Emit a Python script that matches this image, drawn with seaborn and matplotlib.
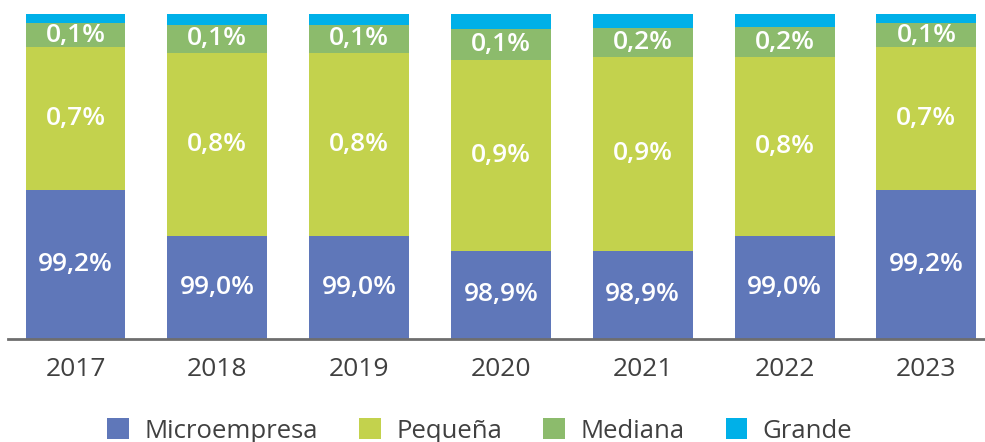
#distribucion de empresas por tamano (barras apiladas)

import numpy as np
import pandas as pd
import matplotlib
matplotlib.use("Agg")
import matplotlib.pyplot as plt
from matplotlib.patches import Patch
import seaborn as sns

#datos
anios = ["2017", "2018", "2019", "2020", "2021", "2022", "2023"]
tamanos = ["Microempresa", "Pequeña", "Mediana", "Grande"]

#etiquetas que muestra el grafico
etiqueta_micro = ["99,2%", "99,0%", "99,0%", "98,9%", "98,9%", "99,0%", "99,2%"]
etiqueta_pequena = ["0,7%", "0,8%", "0,8%", "0,9%", "0,9%", "0,8%", "0,7%"]
etiqueta_mediana = ["0,1%", "0,1%", "0,1%", "0,1%", "0,2%", "0,2%", "0,1%"]

#alto visual de cada tramo (el original no esta a escala, suma 100)
alto_micro = [45.9, 31.6, 31.6, 27.1, 27.1, 31.6, 45.9]
alto_pequena = [43.8, 56.4, 56.4, 58.7, 59.8, 55.1, 43.8]
alto_mediana = [7.5, 8.7, 8.7, 9.6, 8.9, 9.2, 7.5]
alto_grande = [2.8, 3.3, 3.3, 4.6, 4.2, 4.1, 2.8]

colores = ["#5F77B9", "#C3D24D", "#8CBB6C", "#00B0E8"]

sns.set_theme(style="white")
plt.rcParams["font.family"] = ["Open Sans", "DejaVu Sans"]

df = pd.DataFrame({
    "anio": anios,
    "micro": alto_micro,
    "pequena": alto_pequena,
    "mediana": alto_mediana,
    "grande": alto_grande,
})
df["c1"] = df["micro"]
df["c2"] = df["c1"] + df["pequena"]
df["c3"] = df["c2"] + df["mediana"]
df["c4"] = df["c3"] + df["grande"]

fig = plt.figure(figsize=(9.85, 4.42), dpi=100)
ax = fig.add_axes([8 / 985, 103 / 442, 977 / 985, 325 / 442])

#se dibuja de arriba hacia abajo para apilar
for col, color in zip(["c4", "c3", "c2", "c1"], colores[::-1]):
    sns.barplot(data=df, x="anio", y=col, color=color, width=0.705,
                saturation=1, ax=ax, linewidth=0)

#etiquetas dentro de las barras
estilo = dict(ha="center", va="center", color="white", fontsize=19, fontweight="semibold")
for i in range(len(anios)):
    ax.text(i, df["c1"][i] / 2, etiqueta_micro[i], **estilo)
    ax.text(i, (df["c1"][i] + df["c2"][i]) / 2, etiqueta_pequena[i], **estilo)
    ax.text(i, (df["c2"][i] + df["c3"][i]) / 2, etiqueta_mediana[i], **estilo)

ax.set_xlim(-0.476, 6.413)
ax.set_ylim(0, 100)
ax.set_xlabel("")
ax.set_ylabel("")
ax.set_yticks([])
ax.tick_params(axis="x", length=0, pad=13, labelsize=19, labelcolor="#404040")
for lado in ["top", "right", "left"]:
    ax.spines[lado].set_visible(False)
ax.spines["bottom"].set_color("#6E6E6E")
ax.spines["bottom"].set_linewidth(2)

handles = [Patch(facecolor=c, edgecolor="none", label=t) for c, t in zip(colores, tamanos)]
fig.legend(handles=handles, loc="center", bbox_to_anchor=(0.487, 11 / 442), ncol=4,
           frameon=False, fontsize=18.5, handlelength=0.85, handleheight=0.85,
           handletextpad=0.6, columnspacing=1.6, labelcolor="#404040",
           borderpad=0)

fig.savefig("out.png", dpi=100)
